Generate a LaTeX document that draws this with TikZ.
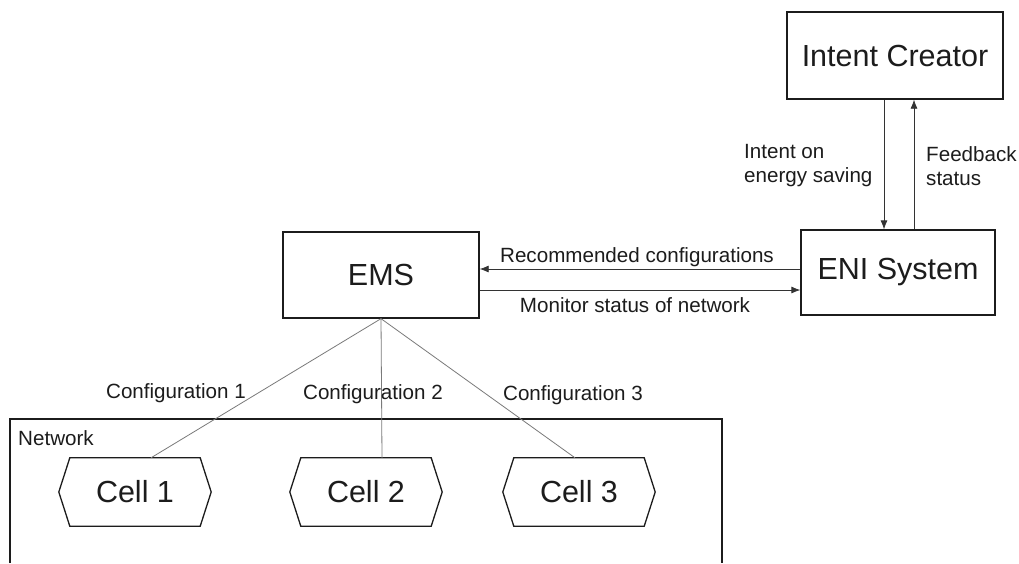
\documentclass[tikz,border=0pt]{standalone}
\usepackage{fontspec}
\setmainfont{Liberation Sans}
\usetikzlibrary{arrows.meta}
\definecolor{ink}{HTML}{1C1C1C}
\definecolor{wire}{HTML}{7A7A7A}
\begin{document}
\begin{tikzpicture}[x=1pt,y=-1pt,
  big/.style={font=\fontsize{30.5}{36}\selectfont, text=ink},
  small/.style={font=\fontsize{20.6}{24}\selectfont, text=ink},
  block/.style={big, draw=ink, line width=1.3pt, inner sep=0pt},
  cellbox/.style={big, minimum width=130pt, minimum height=68pt, inner sep=0pt},
  cellline/.style={draw=ink, line width=1.3pt, line join=miter},
  arr/.style={draw=ink!90, line width=0.8pt, -{Latex[length=9pt,width=7pt]}},
  link/.style={draw=wire, line width=0.8pt}]
\useasboundingbox (0,0) rectangle (1019,563);
\fill[white] (0,0) rectangle (1019,563);

% main blocks
\node[block, minimum width=216pt, minimum height=87pt] (ic)  at (895,55.5) {Intent Creator};
\node[block, minimum width=194pt, minimum height=85pt] (eni) at (898,272.5) {ENI System};
\node[block, minimum width=196pt, minimum height=86pt] (ems) at (381,275) {EMS};

% network frame (continues below the page edge)
\draw[draw=ink, line width=1.3pt] (10,563) -- (10,419) -- (722,419) -- (722,563);
\node[small, anchor=west, inner sep=0pt] (net) at (18,438) {Network};

% cells
\node[cellbox] (c1) at (135,492) {Cell 1};
\node[cellbox] (c2) at (366,492) {Cell 2};
\node[cellbox] (c3) at (579,492) {Cell 3};
\foreach \c in {c1,c2,c3}
  \draw[cellline] (\c.north west) -- (\c.north east) -- ([xshift=11pt]\c.east)
    -- (\c.south east) -- (\c.south west) -- ([xshift=-11pt]\c.west) -- cycle;

% intent / feedback between creator and ENI system
\coordinate (dn) at (884,0);
\coordinate (up) at (914,0);
\draw[arr] (ic.south -| dn) -- (eni.north -| dn);
\draw[arr] (eni.north -| up) -- (ic.south -| up);
\node[small, anchor=west, align=left, inner sep=0pt] (lint) at (744,166) {Intent on\\energy saving};
\node[small, anchor=west, align=left, inner sep=0pt] (lfb) at (926,166) {Feedback\\status};

% EMS <-> ENI system
\coordinate (rec) at (0,269);
\coordinate (mon) at (0,290);
\draw[arr] (eni.west |- rec) -- (ems.east |- rec);
\draw[arr] (ems.east |- mon) -- (eni.west |- mon);
\node[small, inner sep=0pt] (lrec) at (637,257) {Recommended configurations};
\node[small, inner sep=0pt] (lmon) at (635,305) {Monitor status of network};

% configuration links from EMS to the cells
\draw[link] (ems.south) -- ([xshift=16pt]c1.north);
\draw[link] (ems.south) -- ([xshift=16pt]c2.north);
\draw[link] (ems.south) -- ([xshift=-4pt]c3.north);
\node[small, inner sep=0pt] (cf1) at (176,393) {Configuration 1};
\node[small, inner sep=0pt] (cf2) at (373,394) {Configuration 2};
\node[small, inner sep=0pt] (cf3) at (573,395) {Configuration 3};
\end{tikzpicture}
\end{document}
